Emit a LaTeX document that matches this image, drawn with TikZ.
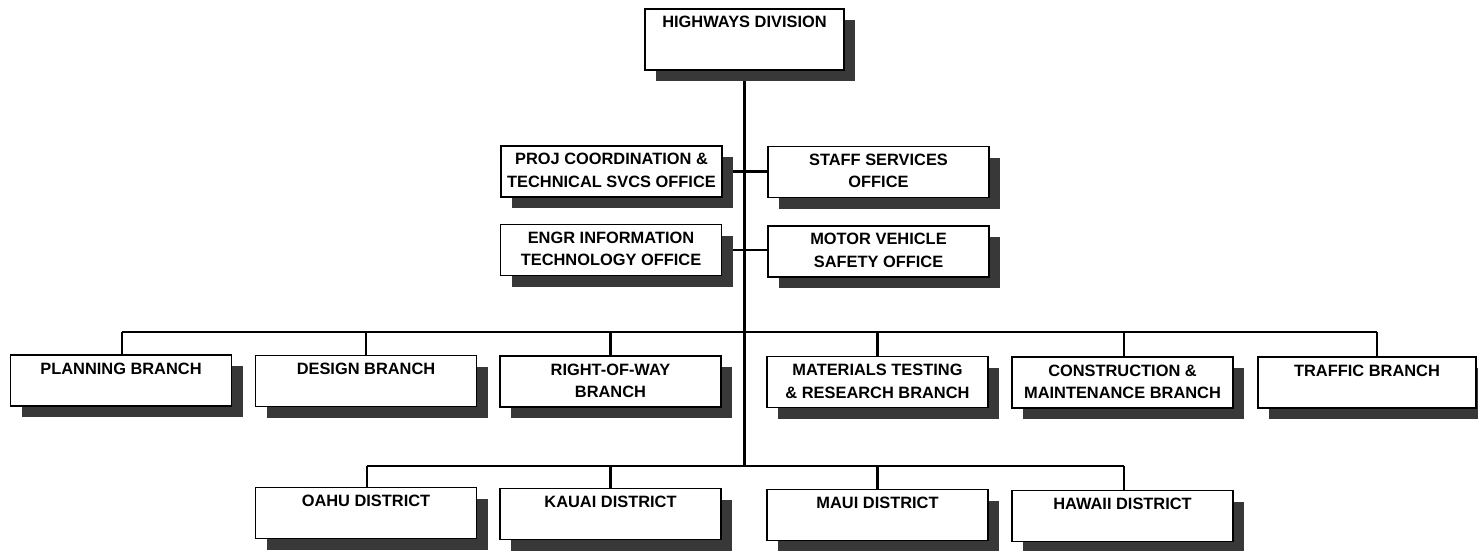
\documentclass[tikz,border=0pt]{standalone}
\usepackage{fontspec}
\setmainfont{Liberation Sans}
\usetikzlibrary{shadows}
\pgfdeclarelayer{background}
\pgfsetlayers{background,main}
\tikzset{
  box/.style={draw=black, line width=1.8pt, fill=white, minimum width=221pt, minimum height=51pt, inner sep=0pt,
    drop shadow={shadow xshift=11pt, shadow yshift=-11pt, fill=black!78, opacity=1}},
  lbl/.style={anchor=north, align=center, inner sep=0pt, font=\bfseries\fontsize{16.4}{22.5}\selectfont},
  conn/.style={line width=2.2pt, draw=black}
}
\begin{document}
\begin{tikzpicture}[x=1pt, y=-1pt]
\useasboundingbox (0,0) rectangle (1478,550);
% top
\node[box, minimum width=199pt, minimum height=61pt] (hd) at (744.5,39.5) {};
\node[lbl] (hdT) at ([yshift=-8pt]hd.north) {HIGHWAYS DIVISION};
% offices
\node[box] (proj) at (611.5,171.5) {};
\node[lbl] (projT) at ([yshift=-8pt]proj.north) {PROJ COORDINATION \&\\TECHNICAL SVCS OFFICE};
\node[box] (staff) at (878.5,172) {};
\node[lbl] (staffT) at ([yshift=-8pt]staff.north) {STAFF SERVICES\\OFFICE};
\node[box] (engr) at (611,250) {};
\node[lbl] (engrT) at ([yshift=-8pt]engr.north) {ENGR INFORMATION\\TECHNOLOGY OFFICE};
\node[box] (motor) at (878.5,251.5) {};
\node[lbl] (motorT) at ([yshift=-8pt]motor.north) {MOTOR VEHICLE\\SAFETY OFFICE};
% branches
\node[box] (plan) at (121,380.5) {};
\node[lbl] (planT) at ([yshift=-8.5pt]plan.north) {PLANNING BRANCH};
\node[box] (des) at (366,381) {};
\node[lbl] (desT) at ([yshift=-8.5pt]des.north) {DESIGN BRANCH};
\node[box] (row) at (610.5,381.5) {};
\node[lbl] (rowT) at ([yshift=-8.5pt]row.north) {RIGHT-OF-WAY\\BRANCH};
\node[box] (mat) at (877.5,382) {};
\node[lbl] (matT) at ([yshift=-8.5pt]mat.north) {MATERIALS TESTING\\\& RESEARCH BRANCH};
\node[box] (con) at (1122.5,382.5) {};
\node[lbl] (conT) at ([yshift=-8.5pt]con.north) {CONSTRUCTION \&\\MAINTENANCE BRANCH};
\node[box, minimum width=218pt] (traf) at (1367,382.5) {};
\node[lbl] (trafT) at ([yshift=-8.5pt]traf.north) {TRAFFIC BRANCH};
% districts
\node[box] (oahu) at (366,513) {};
\node[lbl] (oahuT) at ([yshift=-8.5pt]oahu.north) {OAHU DISTRICT};
\node[box] (kauai) at (610.5,514) {};
\node[lbl] (kauaiT) at ([yshift=-8.5pt]kauai.north) {KAUAI DISTRICT};
\node[box] (maui) at (877.5,515) {};
\node[lbl] (mauiT) at ([yshift=-8.5pt]maui.north) {MAUI DISTRICT};
\node[box] (hawaii) at (1122.5,516) {};
\node[lbl] (hawaiiT) at ([yshift=-8.5pt]hawaii.north) {HAWAII DISTRICT};
% connectors
\coordinate (bl) at (122,332);
\coordinate (br) at (1377,332);
\coordinate (dl) at (367,466);
\coordinate (dr) at (1124,466);
\begin{pgfonlayer}{background}
\draw[conn] (hd.south) -- (hd.south |- dl);
\draw[conn] (proj.east) -- (proj.east -| staff.west);
\draw[conn] (engr.east) -- (engr.east -| motor.west);
\draw[conn] (bl) -- (br);
\draw[conn] (bl) -- (bl |- plan.north);
\draw[conn] (des.north) -- (des.north |- bl);
\draw[conn] (row.north) -- (row.north |- bl);
\draw[conn] (mat.north) -- (mat.north |- bl);
\draw[conn] ([xshift=1.5pt]con.north) -- ([xshift=1.5pt]con.north |- bl);
\draw[conn] (br) -- (br |- traf.north);
\draw[conn] (dl) -- (dr);
\draw[conn] (dl) -- (dl |- oahu.north);
\draw[conn] (kauai.north) -- (kauai.north |- dl);
\draw[conn] (maui.north) -- (maui.north |- dl);
\draw[conn] (dr) -- (dr |- hawaii.north);
\end{pgfonlayer}
\end{tikzpicture}
\end{document}
